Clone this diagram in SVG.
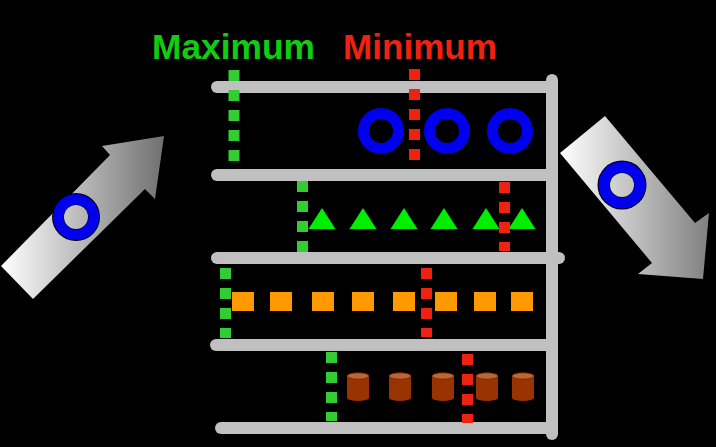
<svg xmlns="http://www.w3.org/2000/svg" width="716" height="447" viewBox="0 0 716 447">
<style>
.title{font-family:"Liberation Sans",Arial,sans-serif;font-weight:bold;font-size:35px}
.shelf{stroke:#c0c0c0;stroke-width:12;stroke-linecap:round;fill:none}
.gd{stroke:#33cc33;stroke-width:11;stroke-dasharray:11 9;fill:none}
.rd{stroke:#ee2211;stroke-width:11;stroke-dasharray:11 9;fill:none}
.ring{fill:none;stroke:#0000ee;stroke-width:11}
.tri{fill:#00ee00}
.box{fill:#ff9900}
.body{fill:#993300}
.top{fill:#bb6633;stroke:#772200;stroke-width:0.8}
</style>
<defs>
<linearGradient id="gl" gradientUnits="userSpaceOnUse" x1="1" y1="0" x2="164" y2="0">
<stop offset="0" stop-color="#ffffff"/><stop offset="1" stop-color="#707070"/>
</linearGradient>
<linearGradient id="gr" gradientUnits="userSpaceOnUse" x1="560" y1="0" x2="709" y2="0">
<stop offset="0" stop-color="#ffffff"/><stop offset="1" stop-color="#808080"/>
</linearGradient>
<g id="cyl">
<rect class="body" x="-11" y="0" width="22" height="22"/>
<ellipse class="body" cx="0" cy="22" rx="11" ry="3"/>
<ellipse class="top" cx="0" cy="0" rx="11" ry="3.2"/>
</g>
<polygon id="tri" class="tri" points="0,0 13.5,21 -13.5,21"/>
<rect id="box" class="box" x="0" y="0" width="22" height="19"/>
</defs>
<rect x="0" y="0" width="716" height="447" fill="#000"/>

<g id="titles">
<text class="title" x="152" y="59" fill="#11cc11" textLength="163" lengthAdjust="spacingAndGlyphs">Maximum</text>
<text class="title" x="343" y="59" fill="#ee2211" textLength="154" lengthAdjust="spacingAndGlyphs">Minimum</text>
</g>

<g id="arrow-in">
<polygon points="1,266 110,155 102,146 164,136 155,199 145,189 33,299" fill="url(#gl)"/>
<circle cx="76" cy="217" r="24" fill="#000"/>
<circle cx="76" cy="217" r="23" fill="#0000ee"/>
<circle cx="76" cy="217" r="12.5" fill="#000"/>
<circle cx="76" cy="217" r="12" fill="url(#gl)"/>
</g>

<g id="arrow-out">
<polygon points="605,116 695,223 709,213 703,279 638,274 652,263 560,153" fill="url(#gr)"/>
<circle cx="622" cy="185" r="24.5" fill="#000"/>
<circle cx="622" cy="185" r="23.5" fill="#0000ee"/>
<circle cx="622" cy="185" r="12.5" fill="#000"/>
<circle cx="622" cy="185" r="12" fill="url(#gr)"/>
</g>

<g id="rack">
<line class="shelf" x1="217" y1="87" x2="552" y2="87"/>
<line class="shelf" x1="217" y1="175" x2="552" y2="175"/>
<line class="shelf" x1="217" y1="258" x2="559" y2="258"/>
<line class="shelf" x1="216" y1="345" x2="550" y2="345"/>
<line class="shelf" x1="221" y1="428" x2="552" y2="428"/>
<line class="shelf" x1="552" y1="80" x2="552" y2="434"/>
</g>

<g id="shelf1-items">
<circle class="ring" cx="381" cy="131" r="17.5"/>
<circle class="ring" cx="447" cy="131" r="17.5"/>
<circle class="ring" cx="510" cy="131" r="17.5"/>
</g>
<g id="shelf2-items">
<use href="#tri" x="322" y="208"/>
<use href="#tri" x="363" y="208"/>
<use href="#tri" x="404" y="208"/>
<use href="#tri" x="444" y="208"/>
<use href="#tri" x="486" y="208"/>
<use href="#tri" x="522" y="208"/>
</g>
<g id="shelf3-items">
<use href="#box" x="232" y="292"/>
<use href="#box" x="270" y="292"/>
<use href="#box" x="312" y="292"/>
<use href="#box" x="352" y="292"/>
<use href="#box" x="393" y="292"/>
<use href="#box" x="435" y="292"/>
<use href="#box" x="474" y="292"/>
<use href="#box" x="511" y="292"/>
</g>
<g id="shelf4-items">
<use href="#cyl" x="358" y="376"/>
<use href="#cyl" x="400" y="376"/>
<use href="#cyl" x="443" y="376"/>
<use href="#cyl" x="487" y="376"/>
<use href="#cyl" x="523" y="376"/>
</g>

<g id="markers">
<line class="gd" x1="234" y1="70" x2="234" y2="162"/>
<line class="rd" x1="414.5" y1="69" x2="414.5" y2="160"/>
<line class="gd" x1="302.5" y1="181" x2="302.5" y2="252"/>
<line class="rd" x1="504.5" y1="182" x2="504.5" y2="251"/>
<line class="gd" x1="225.5" y1="268" x2="225.5" y2="338"/>
<line class="rd" x1="426.5" y1="268" x2="426.5" y2="337"/>
<line class="gd" x1="331.5" y1="352" x2="331.5" y2="421"/>
<line class="rd" x1="467.5" y1="354" x2="467.5" y2="423"/>
</g>
</svg>
